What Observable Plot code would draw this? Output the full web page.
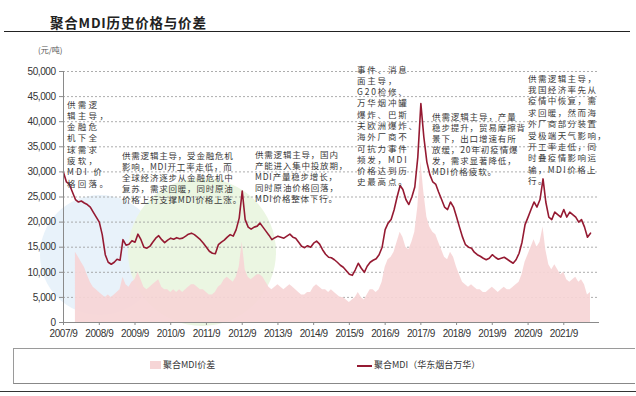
<!DOCTYPE html>
<html><head><meta charset="utf-8">
<script src="https://cdn.jsdelivr.net/npm/d3@7"></script>
<script src="https://cdn.jsdelivr.net/npm/@observablehq/plot@0.6"></script>
<style>
html,body{margin:0;padding:0;background:#fff;}
#wrap{position:relative;width:636px;height:396px;overflow:hidden;font-family:"Noto Sans CJK SC","Liberation Sans",sans-serif;}
#chart{position:absolute;left:0;top:40px;}
#chart text{letter-spacing:-0.45px;}
.abs{position:absolute;}
.note{position:absolute;font-size:8.5px;color:#3a3a3a;white-space:nowrap;font-family:"Noto Sans CJK SC",sans-serif;}
.blob{position:absolute;border-radius:50%;}
</style></head>
<body><div id="wrap"></div>
<script>
// ---------------- data ----------------
const titleText = "聚合MDI历史价格与价差";
const unitText = "(元/吨)";
const priceStart = "2007/9";
// 聚合MDI（华东烟台万华）, monthly, 元/吨
const mdiPrice = [
 29900,28000,27500,26000,24500,24000,24200,23800,23500,23000,22000,21000,20000,17500,13500,12000,
 11600,12000,12600,12400,16500,15400,15600,16300,16000,17600,16500,15000,
 14800,15200,16000,16800,17300,16500,15900,16400,16800,16600,16900,16700,
 16800,17200,17600,17800,17500,17000,16500,15800,15000,14200,13800,13700,
 15500,16000,16400,17000,17500,17200,18500,20800,26200,20500,19000,18600,
 19000,19200,19800,19000,18200,17400,16500,16900,17200,17000,16800,17200,
 17600,17000,16800,16000,15200,14900,15300,15000,15800,16200,15600,14500,
 13600,13000,12900,12500,12000,11400,11000,10300,9600,9400,10500,11800,
 10800,10000,11200,12000,12400,12700,13500,15000,18500,19800,20500,22400,
 25000,27300,26500,24500,23500,25000,27000,33000,43600,37000,32000,29500,
 28000,27500,26000,24500,23000,22500,24000,23000,21000,19000,17000,15500,
 15000,14800,14000,13500,13200,12800,12500,12800,13500,13000,12600,12800,
 13000,12600,12200,11800,12500,13800,16000,19500,21000,22500,24000,23000,
 24500,28600,24000,21000,20500,22000,21500,21000,22500,21000,22000,21500,
 21000,20000,20500,19000,17000,17800
];
const spreadStart = "2008/1";
// 聚合MDI价差, monthly, 元/吨
const mdiSpread = [
 14000,13000,12000,11000,9500,8000,7000,6500,6000,5500,5000,5500,
 5000,5500,6000,6500,9000,7500,7000,8000,8500,10000,8500,7000,
 6500,7000,7500,8000,8500,7000,6500,6500,6000,6500,6000,6500,
 6000,6500,7000,7500,7500,7000,6500,6500,6000,5500,5500,6000,
 7000,7500,8500,9000,8500,8000,9000,11000,16000,10500,9000,8500,
 9000,9500,9500,9000,8000,7000,6500,7000,7500,7000,6500,7000,
 7500,7000,6500,6000,5500,5500,6000,6000,7000,7500,7000,6500,
 6500,6000,6500,6000,5500,5000,5000,4500,4000,4500,5000,6000,
 5000,4500,5500,6500,6500,6000,6500,8000,11000,12500,13000,14000,
 16000,18000,17000,15000,14500,16000,18000,23000,32000,26000,21000,19000,
 18000,17500,16000,14500,13000,12500,14000,13000,11000,9500,8000,7500,
 7000,7500,7000,6500,6500,6000,6000,6500,7000,6500,6000,6500,
 7000,6500,6500,7000,7500,8000,9500,12000,13500,15000,16500,15000,
 16000,19000,14500,11500,10500,11500,10500,9500,10000,8500,8000,8500,
 9000,8000,8500,7500,5500,6000
];
const xTickLabels = ["2007/9","2008/9","2009/9","2010/9","2011/9","2012/9","2013/9","2014/9","2015/9","2016/9","2017/9","2018/9","2019/9","2020/9","2021/9"];
const yTicks = [0,5000,10000,15000,20000,25000,30000,35000,40000,45000,50000];
const seriesNames = ["聚合MDI价差","聚合MDI（华东烟台万华）"];
const notes = [
 ["供需逻","辑主导，","金融危","机下全","球需求","疲软，","MDI 价","格回落。"],
 ["供需逻辑主导，受金融危机","影响，MDI开工率走低，而","全球经济逐步从金融危机中","复苏，需求回暖，同时原油","价格上行支撑MDI价格上涨。"],
 ["供需逻辑主导，国内","产能进入集中投放期，","MDI产量稳步增长，","同时原油价格回落，","MDI价格整体下行。"],
 ["事件、消息","面主导，","G20检修、","万华烟冲罐","爆炸、巴斯","夫欧洲爆炸、","海外厂商不","可抗力事件","频发，MDI","价格达到历","史最高点。"],
 ["供需逻辑主导，产量","稳步提升，贸易摩擦背","景下，出口增速有所","放缓，20年初疫情爆","发，需求显著降低，","MDI价格疲软。"],
 ["供需逻辑主导，","我国经济率先从","疫情中恢复，需","求回暖，然而海","外厂商部分装置","受极端天气影响，","开工率走低，同","时叠疫情影响运","输，MDI价格上","行。"]
];
// ---------------- build ----------------
const parseYM = s => { const [y,m] = s.split("/").map(Number); return new Date(Date.UTC(y, m-1, 1)); };
const addMonths = (d, k) => new Date(Date.UTC(d.getUTCFullYear(), d.getUTCMonth()+k, 1));
const p0 = parseYM(priceStart), s0 = parseYM(spreadStart);
const priceData = mdiPrice.map((v,i)=>({date:addMonths(p0,i), value:v}));
const spreadData = mdiSpread.map((v,i)=>({date:addMonths(s0,i), value:v}));
const xTicks = xTickLabels.map(parseYM);
const xEnd = addMonths(parseYM(xTickLabels[xTickLabels.length-1]), 12);

const wrap = document.getElementById("wrap");
wrap.insertAdjacentHTML("beforeend", `
<div class="blob" style="left:40px;top:195px;width:120px;height:120px;background:#e8f2fa;"></div>
<div class="blob" style="left:128px;top:178px;width:148px;height:148px;background:#ebf6e2;"></div>
<div class="abs" style="left:50px;top:12px;font-size:13.5px;font-weight:bold;color:#222;letter-spacing:0.8px;">${titleText}</div>
<div class="abs" style="left:4px;top:31px;width:626px;height:0;border-top:1.5px solid #222;"></div>
<div class="abs" style="left:38px;top:44px;font-size:8px;color:#555;">${unitText}</div>
`);

const fontAxis = "'Liberation Sans',Arial,sans-serif";
const chart = Plot.plot({
  width: 636, height: 300,
  marginTop: 31, marginBottom: 18, marginLeft: 63, marginRight: 37,
  style: {background: "transparent", fontFamily: fontAxis, color: "#333"},
  x: {type: "utc", domain: [p0, xEnd]},
  y: {domain: [0, 50000]},
  marks: [
    Plot.gridY(yTicks, {stroke: "#999", strokeOpacity: 0.8, strokeDasharray: "2,2"}),
    Plot.areaY(spreadData, {x: "date", y: "value", fill: "#f6d5d6", fillOpacity: 0.92}),
    Plot.lineY(priceData, {x: "date", y: "value", stroke: "#951a32", strokeWidth: 1.6}),
    Plot.ruleX([p0], {stroke: "#8a8a8a"}),
    Plot.ruleY([0], {stroke: "#8a8a8a"}),
    Plot.axisY(yTicks, {tickFormat: d3.format(","), tickSize: 4, tickPadding: 4, fontSize: 10, stroke: "#8a8a8a", fill: "#333", label: null}),
    Plot.axisX(xTicks, {tickFormat: (d,i) => xTickLabels[i], tickSize: 3, tickPadding: 4, fontSize: 10, stroke: "#8a8a8a", fill: "#333", label: null})
  ]
});
chart.id = "chart";
wrap.appendChild(chart);

// annotation blocks
const notePos = [
  {left: 67, top: 98.5, lh: 11.3, ls: 2.3},
  {left: 122, top: 149.5, lh: 11.1, ls: 0.8},
  {left: 255, top: 148.5, lh: 11.1, ls: 0.8},
  {left: 357, top: 63.5, lh: 11.3, ls: 1.8},
  {left: 432, top: 110.5, lh: 11.1, ls: 0.9},
  {left: 528, top: 72.5, lh: 11.4, ls: 1.4}
];
notes.forEach((lines, i) => {
  const p = notePos[i];
  const d = document.createElement("div");
  d.className = "note";
  d.style.left = p.left + "px"; d.style.top = p.top + "px";
  d.style.lineHeight = p.lh + "px"; d.style.letterSpacing = p.ls + "px";
  d.innerHTML = lines.join("<br>");
  wrap.appendChild(d);
});

// legend
wrap.insertAdjacentHTML("beforeend", `
<div class="abs" style="left:13px;top:348px;width:622px;height:36px;border:1px solid #9a9a9a;border-bottom:1.5px solid #888;border-right:none;box-sizing:border-box;"></div>
<div class="abs" style="left:150px;top:361px;width:11px;height:8px;background:#f6d5d6;"></div>
<div class="abs" style="left:163px;top:358px;font-size:9px;color:#333;">${seriesNames[0]}</div>
<div class="abs" style="left:357px;top:365px;width:15px;height:2px;background:#951a32;"></div>
<div class="abs" style="left:374px;top:358px;font-size:9px;color:#333;">${seriesNames[1]}</div>
<div class="abs" style="left:0px;top:391px;width:636px;height:0;border-top:1.5px solid #333;"></div>
`);
</script></body></html>
